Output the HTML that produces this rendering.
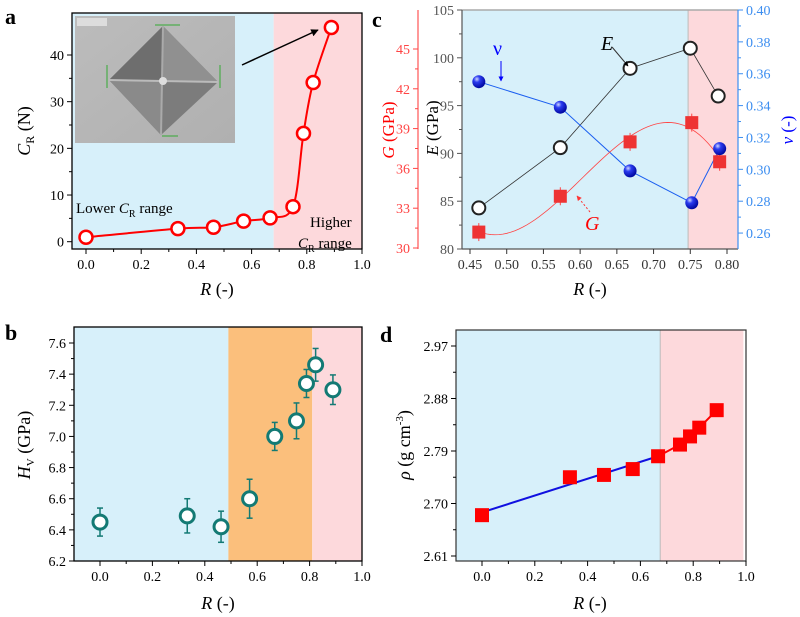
<!DOCTYPE html>
<html><head><meta charset="utf-8"><style>
body{margin:0;background:#fff}
svg{display:block;font-family:"Liberation Serif",serif}
</style></head><body>
<svg id="fig" width="800" height="617" viewBox="0 0 800 617" xmlns="http://www.w3.org/2000/svg">
<defs>
<radialGradient id="ball" cx="0.35" cy="0.3" r="0.7"><stop offset="0" stop-color="#cfd6ff"/><stop offset="0.35" stop-color="#2b3cf0"/><stop offset="1" stop-color="#0008a0"/></radialGradient>
<linearGradient id="inbg" x1="0" y1="0" x2="1" y2="1"><stop offset="0" stop-color="#bcbcbc"/><stop offset="1" stop-color="#b0b0b0"/></linearGradient>
<marker id="ah" viewBox="0 0 10 10" refX="9" refY="5" markerWidth="5" markerHeight="5" orient="auto"><path d="M0,0L10,5L0,10z" fill="#000"/></marker>
<marker id="ahb" viewBox="0 0 10 10" refX="9" refY="5" markerWidth="5" markerHeight="5" orient="auto"><path d="M0,0L10,5L0,10z" fill="#00f"/></marker>
<marker id="ahr" viewBox="0 0 10 10" refX="9" refY="5" markerWidth="5" markerHeight="5" orient="auto"><path d="M0,0L10,5L0,10z" fill="#f33"/></marker>
</defs>
<g id="root"></g>
</svg>
<script>
// ---- Panel a data
const aR=[0,0.333,0.462,0.571,0.667,0.75,0.788,0.823,0.889];
const aCR=[0.95,2.8,3.1,4.4,5.1,7.5,23.2,34.1,45.9];
const aTicksX=[0,0.2,0.4,0.6,0.8,1.0];
const aTicksY=[0,10,20,30,40];
// ---- Panel b data
const bR=[0,0.333,0.462,0.571,0.667,0.75,0.788,0.823,0.889];
const bHv=[6.45,6.49,6.42,6.6,7.0,7.1,7.34,7.46,7.3];
const bErr=[0.09,0.11,0.1,0.125,0.09,0.115,0.09,0.105,0.095];
const bTicksX=[0,0.2,0.4,0.6,0.8,1.0];
const bTicksY=[6.2,6.4,6.6,6.8,7.0,7.2,7.4,7.6];
// ---- Panel c data
const cR=[0.462,0.573,0.668,0.75,0.788];
const cE=[84.3,90.6,98.9,101,96];
const cNuR=[0.462,0.573,0.668,0.752,0.79];
const cNu=[0.355,0.339,0.299,0.279,0.313];
const cGR=[0.462,0.573,0.668,0.752,0.79];
const cG=[31.2,33.9,38.0,39.45,36.5];
const cTicksX=[0.45,0.5,0.55,0.6,0.65,0.7,0.75,0.8];
const cTicksE=[80,85,90,95,100,105];
const cTicksG=[30,33,36,39,42,45];
const cTicksNu=[0.26,0.28,0.30,0.32,0.34,0.36,0.38,0.40];
// ---- Panel d data
const dR=[0,0.333,0.462,0.571,0.667,0.75,0.788,0.823,0.889];
const dRho=[2.680,2.745,2.749,2.759,2.781,2.801,2.815,2.830,2.860];
const dTicksX=[0,0.2,0.4,0.6,0.8,1.0];
const dTicksY=[2.61,2.70,2.79,2.88,2.97];

const NS="http://www.w3.org/2000/svg";
const root=document.getElementById('root');
function el(tag,attrs,parent,text){const e=document.createElementNS(NS,tag);for(const k in attrs)e.setAttribute(k,attrs[k]);if(text!==undefined)e.textContent=text;(parent||root).appendChild(e);return e;}
function lin(d0,d1,p0,p1){return v=>p0+(v-d0)*(p1-p0)/(d1-d0);}
function fmt(v,d){return v.toFixed(d);}

function xAxis(g,sx,ticks,y,dec,minor,color){
  ticks.forEach((t,i)=>{
    const x=sx(t);
    const tk=el('line',{x1:x,x2:x,y1:y,y2:y+5,stroke:color||'#000','stroke-width':1},g);
    
    const lb=el('text',{x:x,y:y+20,'text-anchor':'middle','font-size':14,fill:color||'#000'},g,fmt(t,dec));
    
    if(minor&&i<ticks.length-1){const xm=sx((t+ticks[i+1])/2);el('line',{x1:xm,x2:xm,y1:y,y2:y+3,stroke:color||'#000'},g);}
  });
}
function yAxis(g,sy,ticks,x,dec,minor,color,side){
  const s=side==='right'?1:-1;
  ticks.forEach((t,i)=>{
    const y=sy(t);
    el('line',{x1:x,x2:x+s*5,y1:y,y2:y,stroke:color||'#000'},g);
    const lb=el('text',{x:x+s*8,y:y+5,'text-anchor':s<0?'end':'start','font-size':14,fill:color||'#000'},g,fmt(t,dec));
    
    if(minor&&i<ticks.length-1){const ym=sy((t+ticks[i+1])/2);el('line',{x1:x,x2:x+s*3,y1:ym,y2:ym,stroke:color||'#000'},g);}
  });
}
function label(t,x,y,name){const e=el('text',{x:x,y:y,'font-size':22,'font-weight':'bold'},root,t);}

// ================= Panel a
(function(){
  const g=el('g',{});
  const L=72,R=362,T=13,B=249;
  const sx=lin(0,1,86,362), sy=lin(0,40,241.7,55);
  el('rect',{x:L,y:T,width:sx(0.68)-L,height:B-T,fill:'#d7f0fa'},g);
  el('rect',{x:sx(0.68),y:T,width:R-sx(0.68),height:B-T,fill:'#fdd9dc'},g);
  const ins=el('g',{},g);
  el('rect',{x:75,y:16,width:160,height:127,fill:'url(#inbg)'},ins);
  el('rect',{x:77,y:18,width:30,height:8,fill:'#ddd'},ins);
  el('polygon',{points:'163,26 218,82 161,135 109,80',fill:'#7c7c7c'},ins);
  el('polygon',{points:'163,26 218,82 163,80',fill:'#909090'},ins);
  el('polygon',{points:'109,80 163,26 163,80',fill:'#6e6e6e'},ins);
  el('polygon',{points:'109,80 161,135 163,80',fill:'#8a8a8a'},ins);
  el('line',{x1:109,y1:80,x2:218,y2:82,stroke:'#bbb','stroke-width':2},ins);
  el('line',{x1:163,y1:26,x2:161,y2:135,stroke:'#aaa','stroke-width':2},ins);
  el('circle',{cx:163,cy:81,r:4,fill:'#ddd'},ins);
  el('line',{x1:155,y1:25,x2:180,y2:25,stroke:'#3a3'},ins);el('line',{x1:162,y1:136,x2:178,y2:136,stroke:'#3a3'},ins);
  el('line',{x1:107,y1:65,x2:107,y2:88,stroke:'#3a3'},ins);el('line',{x1:220,y1:65,x2:220,y2:88,stroke:'#3a3'},ins);
  el('rect',{x:L,y:T,width:R-L,height:B-T,fill:'none',stroke:'#000','stroke-width':1.3},g);
  xAxis(g,sx,aTicksX,B,1,true);
  yAxis(g,sy,aTicksY,L,0,true);
  const pts=aR.map((r,i)=>[sx(r),sy(aCR[i])]);
  let d='M'+pts[0];
  for(let i=0;i<pts.length-1;i++){const p0=pts[Math.max(0,i-1)],p1=pts[i],p2=pts[i+1],p3=pts[Math.min(pts.length-1,i+2)];
    const c1=[p1[0]+(p2[0]-p0[0])/6,p1[1]+(p2[1]-p0[1])/6],c2=[p2[0]-(p3[0]-p1[0])/6,p2[1]-(p3[1]-p1[1])/6];
    d+=' C'+c1+' '+c2+' '+p2;}
  el('path',{d:d,fill:'none',stroke:'#f00','stroke-width':2},g);
  pts.forEach(p=>{const c=el('circle',{cx:p[0],cy:p[1],r:6.5,fill:'#fff',stroke:'#f00','stroke-width':2.5},g);});
  el('line',{x1:242,y1:65,x2:318,y2:30,stroke:'#000','stroke-width':1.5,'marker-end':'url(#ah)'},g);
  const t1=el('text',{x:76,y:213,'font-size':15},g);
  t1.innerHTML='Lower <tspan font-style="italic">C</tspan><tspan font-size="10" dy="4">R</tspan><tspan dy="-4"> range</tspan>';
  el('text',{x:310,y:227,'font-size':15},g,'Higher');
  const t2=el('text',{x:298,y:248,'font-size':15},g);
  t2.innerHTML='<tspan font-style="italic">C</tspan><tspan font-size="10" dy="4">R</tspan><tspan dy="-4"> range</tspan>';
  const yt=el('text',{transform:'translate(30,131) rotate(-90)','text-anchor':'middle','font-size':18},g);
  yt.innerHTML='<tspan font-style="italic">C</tspan><tspan font-size="12" dy="4">R</tspan><tspan dy="-4"> (N)</tspan>';
  const xt=el('text',{x:217,y:295,'text-anchor':'middle','font-size':18},g);
  xt.innerHTML='<tspan font-style="italic">R</tspan> (-)';
})();

// ================= Panel b
(function(){
  const g=el('g',{});
  const L=74,R=362,T=327,B=561;
  const sx=lin(0,1,100,362), sy=lin(6.2,7.6,561,343);
  el('rect',{x:L,y:T,width:sx(0.49)-L,height:B-T,fill:'#d7f0fa'},g);
  el('rect',{x:sx(0.49),y:T,width:sx(0.81)-sx(0.49),height:B-T,fill:'#fbbf7c'},g);
  el('rect',{x:sx(0.81),y:T,width:R-sx(0.81),height:B-T,fill:'#fdd9dc'},g);
  el('rect',{x:L,y:T,width:R-L,height:B-T,fill:'none',stroke:'#000','stroke-width':1.3},g);
  xAxis(g,sx,bTicksX,B,1,true);
  yAxis(g,sy,bTicksY,L,1,true);
  bR.forEach((r,i)=>{
    const x=sx(r),y=sy(bHv[i]),y1=sy(bHv[i]+bErr[i]),y2=sy(bHv[i]-bErr[i]);
    el('line',{x1:x,x2:x,y1:y1,y2:y2,stroke:'#137a74','stroke-width':1.5},g);
    el('line',{x1:x-3,x2:x+3,y1:y1,y2:y1,stroke:'#137a74','stroke-width':1.5},g);
    el('line',{x1:x-3,x2:x+3,y1:y2,y2:y2,stroke:'#137a74','stroke-width':1.5},g);
    const c=el('circle',{cx:x,cy:y,r:7,fill:'#fff',stroke:'#137a74','stroke-width':3},g);
    
  });
  const yt=el('text',{transform:'translate(30,445) rotate(-90)','text-anchor':'middle','font-size':18},g);
  yt.innerHTML='<tspan font-style="italic">H</tspan><tspan font-size="11" dy="4">V</tspan><tspan dy="-4"> (GPa)</tspan>';
  const xt=el('text',{x:218,y:609,'text-anchor':'middle','font-size':18},g);
  xt.innerHTML='<tspan font-style="italic">R</tspan> (-)';
})();

// ================= Panel c
(function(){
  const g=el('g',{});
  const L=462,R=738,T=10,B=249;
  const sx=lin(0.45,0.8,470,727), sE=lin(80,105,249,10), sG=lin(30,45,248,49), sN=lin(0.25,0.40,249,10);
  el('rect',{x:L,y:T,width:sx(0.747)-L,height:B-T,fill:'#d7f0fa'},g);
  el('rect',{x:sx(0.747),y:T,width:R-sx(0.747),height:B-T,fill:'#fdd9dc'},g);
  el('line',{x1:sx(0.747),x2:sx(0.747),y1:T,y2:B,stroke:'#bbb'},g);
  el('line',{x1:L,x2:R,y1:T,y2:T,stroke:'#aaa','stroke-width':1.5},g);
  el('line',{x1:L,x2:R,y1:B,y2:B,stroke:'#555','stroke-width':1.2},g);
  el('line',{x1:L,x2:L,y1:T,y2:B,stroke:'#555','stroke-width':1.2},g);
  el('line',{x1:R,x2:R,y1:T,y2:B,stroke:'#3d8ef0','stroke-width':1.2},g);
  el('line',{x1:418,x2:418,y1:T,y2:B,stroke:'#f55','stroke-width':1.2},g);
  xAxis(g,sx,cTicksX,B,2,false,'#333');
  yAxis(g,sE,cTicksE,L,0,true,'#555');
  yAxis(g,sG,cTicksG,418,0,true,'#f44');
  yAxis(g,sN,cTicksNu,R,2,true,'#3d8ef0','right');
  const eP=cR.map((r,i)=>[sx(r),sE(cE[i])]);
  el('polyline',{points:eP.map(p=>p.join(',')).join(' '),fill:'none',stroke:'#333','stroke-width':0.8},g);
  const nP=cNuR.map((r,i)=>[sx(r),sN(cNu[i])]);
  el('polyline',{points:nP.map(p=>p.join(',')).join(' '),fill:'none',stroke:'#1a5ef0','stroke-width':1},g);
  const n=cGR.length,deg=3,A=[],bb=[];
  for(let r=0;r<=deg;r++){A.push([]);for(let c=0;c<=deg;c++){let s=0;for(let i=0;i<n;i++)s+=Math.pow(cGR[i]-0.6,r+c);A[r].push(s);}let s=0;for(let i=0;i<n;i++)s+=cG[i]*Math.pow(cGR[i]-0.6,r);bb.push(s);}
  for(let i=0;i<=deg;i++){let p=i;for(let k=i+1;k<=deg;k++)if(Math.abs(A[k][i])>Math.abs(A[p][i]))p=k;[A[i],A[p]]=[A[p],A[i]];[bb[i],bb[p]]=[bb[p],bb[i]];
    for(let k=i+1;k<=deg;k++){const f=A[k][i]/A[i][i];for(let c=i;c<=deg;c++)A[k][c]-=f*A[i][c];bb[k]-=f*bb[i];}}
  const co=new Array(deg+1);for(let i=deg;i>=0;i--){let s=bb[i];for(let c=i+1;c<=deg;c++)s-=A[i][c]*co[c];co[i]=s/A[i][i];}
  let gd='';const r0=cGR[0],r1=cGR[n-1];
  for(let k=0;k<=60;k++){const r=r0+(r1-r0)*k/60;let v=0;for(let c=0;c<=deg;c++)v+=co[c]*Math.pow(r-0.6,c);gd+=(k?'L':'M')+sx(r)+','+sG(v);}
  el('path',{d:gd,fill:'none',stroke:'#f44','stroke-width':0.8},g);
  eP.forEach(p=>{const c=el('circle',{cx:p[0],cy:p[1],r:6.5,fill:'#fff',stroke:'#222','stroke-width':2},g);});
  cGR.forEach((r,i)=>{const x=sx(r),y=sG(cG[i]);el('line',{x1:x,x2:x,y1:y-9,y2:y+9,stroke:'#f44'},g);
    const s=el('rect',{x:x-6.5,y:y-6.5,width:13,height:13,fill:'#ee3333'},g);});
  nP.forEach(p=>{const c=el('circle',{cx:p[0],cy:p[1],r:6.5,fill:'url(#ball)'},g);});
  el('text',{x:493,y:55,'font-size':20,fill:'#00f'},g,'ν');
  el('line',{x1:501,y1:61,x2:501,y2:81,stroke:'#00f','marker-end':'url(#ahb)'},g);
  el('text',{x:601,y:50,'font-size':20,'font-style':'italic'},g,'E');
  el('line',{x1:612,y1:47,x2:628,y2:66,stroke:'#333','marker-end':'url(#ah)'},g);
  el('text',{x:585,y:230,'font-size':20,'font-style':'italic',fill:'#f00'},g,'G');
  el('line',{x1:590,y1:212,x2:577,y2:196,stroke:'#f33','stroke-dasharray':'2,2','marker-end':'url(#ahr)'},g);
  const et=el('text',{transform:'translate(438,128) rotate(-90)','text-anchor':'middle','font-size':17},g);
  et.innerHTML='<tspan font-style="italic">E</tspan> (GPa)';
  const gt=el('text',{transform:'translate(394,130) rotate(-90)','text-anchor':'middle','font-size':17,fill:'#f00'},g);
  gt.innerHTML='<tspan font-style="italic">G</tspan> (GPa)';
  const nt=el('text',{transform:'translate(793,130) rotate(-90)','text-anchor':'middle','font-size':17,fill:'#00f'},g);
  nt.innerHTML='<tspan font-style="italic">ν</tspan> (-)';
  const xt=el('text',{x:590,y:295,'text-anchor':'middle','font-size':18},g);
  xt.innerHTML='<tspan font-style="italic">R</tspan> (-)';
})();

// ================= Panel d
(function(){
  const g=el('g',{});
  const L=456,R=746,T=330,B=561;
  const sx=lin(0,1,482,746), sy=lin(2.61,2.97,556,346);
  el('rect',{x:L,y:T,width:sx(0.675)-L,height:B-T,fill:'#d7f0fa'},g);
  el('rect',{x:sx(0.675),y:T,width:sx(0.99)-sx(0.675),height:B-T,fill:'#fdd9dc'},g);
  el('line',{x1:sx(0.675),x2:sx(0.675),y1:T,y2:B,stroke:'#bbb'},g);
  el('rect',{x:L,y:T,width:R-L,height:B-T,fill:'none',stroke:'#333','stroke-width':1.2},g);
  xAxis(g,sx,dTicksX,B,1,true);
  yAxis(g,sy,dTicksY,L,2,true);
  const m=5;let sxm=0,sym=0;for(let i=0;i<m;i++){sxm+=dR[i];sym+=dRho[i];}sxm/=m;sym/=m;
  let num=0,den=0;for(let i=0;i<m;i++){num+=(dR[i]-sxm)*(dRho[i]-sym);den+=(dR[i]-sxm)**2;}
  const k=num/den,b0=sym-k*sxm;
  el('line',{x1:sx(dR[0]),y1:sy(b0+k*dR[0]),x2:sx(dR[m-1]),y2:sy(dRho[m-1]),stroke:'#1010e0','stroke-width':2},g);
  el('polyline',{points:dR.slice(m-1).map((r,i)=>sx(r)+','+sy(dRho[i+m-1])).join(' '),fill:'none',stroke:'#f00','stroke-width':2},g);
  dR.forEach((r,i)=>{const s=el('rect',{x:sx(r)-7,y:sy(dRho[i])-7,width:14,height:14,fill:'#f00'},g);});
  const yt=el('text',{transform:'translate(410,445) rotate(-90)','text-anchor':'middle','font-size':18},g);
  yt.innerHTML='<tspan font-style="italic">ρ</tspan> (g cm<tspan font-size="11" dy="-7">-3</tspan><tspan dy="7">)</tspan>';
  const xt=el('text',{x:590,y:609,'text-anchor':'middle','font-size':18},g);
  xt.innerHTML='<tspan font-style="italic">R</tspan> (-)';
})();

label('a',5,24,'panel-label-a');
label('b',5,340,'panel-label-b');
label('c',372,27,'panel-label-c');
label('d',380,342,'panel-label-d');
</script>
</body></html>
